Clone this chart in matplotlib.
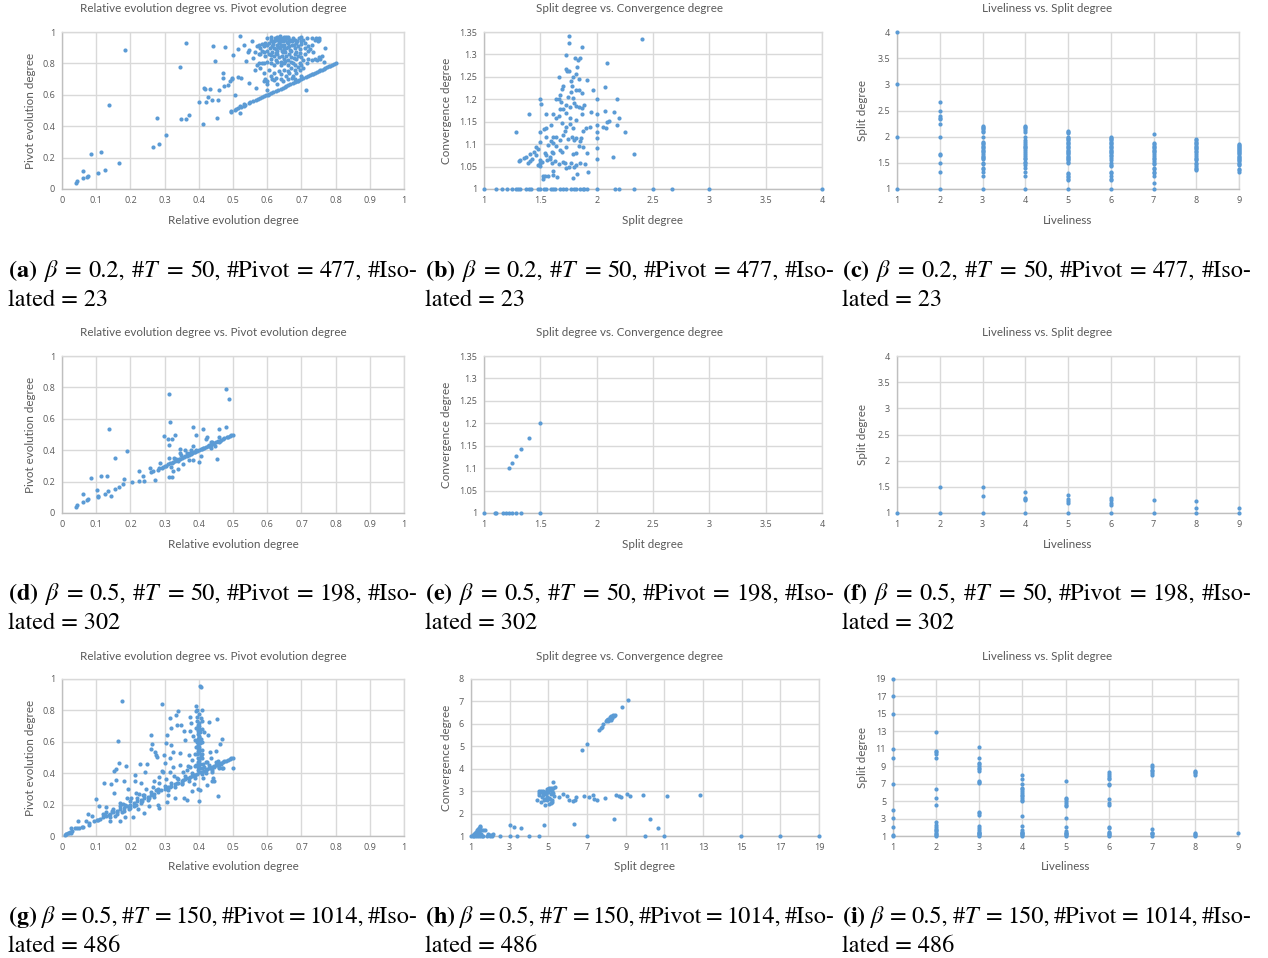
import matplotlib
matplotlib.use("Agg")
import matplotlib.pyplot as plt
from matplotlib.ticker import FuncFormatter

# ---- data (x, y) ----
# (a) beta=0.2, T=50 : relative vs pivot evolution degree
a_scatter = [(0.04, 0.038), (0.044, 0.053), (0.061, 0.117), (0.061, 0.068), (0.073, 0.078),
             (0.076, 0.085), (0.084, 0.225), (0.105, 0.104), (0.114, 0.237), (0.125, 0.121),
             (0.138, 0.534), (0.166, 0.165), (0.183, 0.883), (0.266, 0.267), (0.279, 0.453),
             (0.285, 0.284), (0.304, 0.347), (0.344, 0.778), (0.348, 0.445), (0.364, 0.932),
             (0.364, 0.443), (0.371, 0.47), (0.40, 0.555), (0.412, 0.413), (0.415, 0.646),
             (0.417, 0.638), (0.422, 0.555), (0.428, 0.589), (0.432, 0.636), (0.438, 0.568),
             (0.442, 0.909), (0.446, 0.818), (0.453, 0.451), (0.457, 0.566), (0.46, 0.631),
             (0.471, 0.739), (0.472, 0.705), (0.477, 0.903), (0.473, 0.655), (0.485, 0.663),
             (0.49, 0.686), (0.495, 0.494), (0.497, 0.71), (0.497, 0.70), (0.50, 0.856),
             (0.505, 0.597), (0.509, 0.508), (0.516, 0.89), (0.516, 0.714), (0.521, 0.972),
             (0.521, 0.485), (0.523, 0.708), (0.521, 0.528), (0.532, 0.919), (0.532, 0.54),
             (0.539, 0.818), (0.546, 0.883), (0.548, 0.676), (0.555, 0.941), (0.558, 0.835),
             (0.567, 0.646), (0.712, 0.632)]
a_cluster = [(0.60, 0.96), (0.605, 0.93), (0.61, 0.95), (0.612, 0.97), (0.615, 0.91), (0.62, 0.94),
             (0.622, 0.96), (0.625, 0.89), (0.628, 0.92), (0.63, 0.97), (0.632, 0.95), (0.635, 0.93),
             (0.638, 0.90), (0.64, 0.96), (0.642, 0.88), (0.645, 0.94), (0.648, 0.97), (0.65, 0.92),
             (0.652, 0.95), (0.655, 0.90), (0.658, 0.96), (0.66, 0.93), (0.662, 0.97), (0.665, 0.91),
             (0.668, 0.95), (0.67, 0.88), (0.672, 0.94), (0.675, 0.96), (0.678, 0.92), (0.68, 0.90),
             (0.682, 0.95), (0.685, 0.93), (0.69, 0.91), (0.692, 0.96), (0.695, 0.89), (0.70, 0.94),
             (0.62, 0.90), (0.63, 0.88), (0.64, 0.92), (0.65, 0.89), (0.66, 0.96), (0.64, 0.94),
             (0.625, 0.95), (0.655, 0.97), (0.635, 0.96), (0.645, 0.91), (0.615, 0.94), (0.60, 0.92),
             (0.595, 0.93), (0.59, 0.91), (0.585, 0.925), (0.58, 0.90), (0.575, 0.92), (0.57, 0.91),
             (0.58, 0.86), (0.585, 0.88), (0.59, 0.87), (0.595, 0.85), (0.60, 0.88), (0.605, 0.86),
             (0.61, 0.83), (0.615, 0.87), (0.62, 0.85), (0.625, 0.82), (0.63, 0.86), (0.635, 0.84),
             (0.64, 0.81), (0.645, 0.87), (0.65, 0.83), (0.655, 0.85), (0.66, 0.82), (0.665, 0.86),
             (0.67, 0.84), (0.675, 0.80), (0.68, 0.86), (0.685, 0.83), (0.69, 0.85), (0.695, 0.80),
             (0.70, 0.84), (0.705, 0.82), (0.71, 0.86), (0.715, 0.80), (0.72, 0.83), (0.61, 0.80),
             (0.62, 0.79), (0.63, 0.81), (0.64, 0.79), (0.65, 0.80), (0.66, 0.79), (0.67, 0.81),
             (0.68, 0.79), (0.69, 0.78), (0.70, 0.79), (0.60, 0.81), (0.59, 0.80), (0.575, 0.86),
             (0.565, 0.87), (0.545, 0.87), (0.575, 0.80), (0.705, 0.95), (0.71, 0.93), (0.715, 0.96),
             (0.72, 0.91), (0.725, 0.89), (0.73, 0.92), (0.735, 0.87), (0.74, 0.95), (0.742, 0.96),
             (0.745, 0.955), (0.75, 0.96), (0.752, 0.95), (0.748, 0.94), (0.74, 0.83), (0.745, 0.82),
             (0.75, 0.84), (0.73, 0.82), (0.72, 0.88), (0.77, 0.895), (0.76, 0.85), (0.765, 0.81),
             (0.755, 0.83), (0.71, 0.90), (0.70, 0.97), (0.73, 0.96), (0.58, 0.77), (0.59, 0.74),
             (0.595, 0.70), (0.60, 0.69), (0.60, 0.63), (0.605, 0.76), (0.61, 0.72), (0.615, 0.70),
             (0.62, 0.74), (0.625, 0.71), (0.63, 0.67), (0.635, 0.75), (0.64, 0.73), (0.645, 0.69),
             (0.65, 0.76), (0.655, 0.72), (0.66, 0.70), (0.665, 0.74), (0.67, 0.77), (0.675, 0.72),
             (0.68, 0.76), (0.685, 0.74), (0.69, 0.69), (0.695, 0.76), (0.70, 0.72), (0.705, 0.77),
             (0.57, 0.79), (0.585, 0.80), (0.565, 0.76), (0.59, 0.69), (0.60, 0.67), (0.62, 0.695),
             (0.64, 0.70), (0.66, 0.75), (0.672, 0.705), (0.68, 0.70),
             (0.618, 0.925), (0.633, 0.905), (0.647, 0.955), (0.653, 0.875), (0.663, 0.945),
             (0.673, 0.915), (0.688, 0.945), (0.627, 0.865), (0.643, 0.845), (0.657, 0.935),
             (0.667, 0.885), (0.683, 0.875), (0.698, 0.925), (0.608, 0.895), (0.638, 0.975),
             (0.652, 0.815), (0.677, 0.835), (0.612, 0.855), (0.697, 0.865), (0.662, 0.905)]
a_line = [(0.493, 0.493), (0.505, 0.505), (0.516, 0.516), (0.522, 0.522), (0.531, 0.531),
          (0.536, 0.536), (0.546, 0.546), (0.551, 0.551), (0.558, 0.558), (0.566, 0.566),
          (0.572, 0.572), (0.579, 0.579), (0.586, 0.586), (0.59, 0.59), (0.596, 0.596),
          (0.601, 0.601), (0.606, 0.606), (0.611, 0.611), (0.618, 0.618), (0.626, 0.626),
          (0.633, 0.633), (0.64, 0.64), (0.645, 0.645), (0.651, 0.651), (0.655, 0.655),
          (0.661, 0.661), (0.668, 0.668), (0.674, 0.674), (0.681, 0.681), (0.686, 0.686),
          (0.692, 0.692), (0.70, 0.70), (0.706, 0.706), (0.712, 0.712), (0.718, 0.718),
          (0.724, 0.724), (0.73, 0.73), (0.735, 0.735), (0.741, 0.741), (0.746, 0.746),
          (0.75, 0.75), (0.755, 0.755), (0.761, 0.761), (0.765, 0.765), (0.77, 0.77),
          (0.775, 0.775), (0.781, 0.781), (0.785, 0.785), (0.79, 0.79), (0.795, 0.795), (0.801, 0.801)]

# (b) split vs convergence degree
b_split_at_one = [1.0, 1.11, 1.163, 1.205, 1.252, 1.288, 1.305, 1.323, 1.377, 1.397, 1.415, 1.48,
                  1.495, 1.534, 1.554, 1.593, 1.614, 1.629, 1.673, 1.697, 1.732, 1.768, 1.798,
                  1.821, 1.851, 1.875, 1.886, 1.916, 2.0, 2.162, 2.198, 2.334, 2.503, 2.672, 3.0, 4.0]
b_points = [(1.75, 1.340), (1.75, 1.325), (1.866, 1.316), (2.402, 1.334), (1.726, 1.298), (1.836, 1.288),
            (1.812, 1.292), (1.851, 1.293), (1.827, 1.272), (1.729, 1.267), (1.741, 1.264), (1.753, 1.263),
            (2.094, 1.280), (1.667, 1.249), (1.792, 1.249), (1.818, 1.257), (1.839, 1.245), (1.70, 1.230),
            (1.694, 1.223), (1.774, 1.240), (1.78, 1.230), (1.771, 1.217), (1.821, 1.221), (1.845, 1.221),
            (1.866, 1.214), (1.91, 1.244), (1.964, 1.22), (2.077, 1.227), (1.501, 1.2), (1.51, 1.19),
            (1.637, 1.2), (1.667, 1.2), (1.679, 1.195), (1.673, 1.21), (1.747, 1.205), (1.792, 1.203),
            (1.801, 1.191), (1.889, 1.187), (2.0, 1.2), (2.177, 1.2), (1.732, 1.188), (1.762, 1.182),
            (1.821, 1.185), (1.845, 1.182), (1.869, 1.18), (1.673, 1.178), (1.703, 1.179), (1.614, 1.168),
            (1.554, 1.168), (1.403, 1.168), (1.667, 1.162), (1.726, 1.169), (1.765, 1.158), (1.815, 1.154),
            (1.869, 1.168), (1.952, 1.171), (2.0, 1.168), (2.074, 1.174), (2.153, 1.171), (2.2, 1.158),
            (2.094, 1.15), (2.112, 1.152), (2.183, 1.143), (2.0, 1.142), (1.94, 1.139), (1.904, 1.136),
            (2.059, 1.138), (2.08, 1.136), (1.643, 1.158), (1.593, 1.143), (1.549, 1.136), (1.762, 1.145),
            (1.792, 1.136), (1.732, 1.138), (1.72, 1.13), (1.688, 1.147), (1.288, 1.126), (1.501, 1.126),
            (1.534, 1.133), (1.875, 1.13), (2.0, 1.126), (2.248, 1.126), (1.549, 1.115), (1.611, 1.115),
            (1.637, 1.117), (1.703, 1.121), (1.777, 1.117), (1.821, 1.113), (1.86, 1.113), (1.593, 1.106),
            (1.614, 1.102), (1.673, 1.109), (1.747, 1.111), (1.798, 1.109), (1.851, 1.108), (2.0, 1.113),
            (1.57, 1.098), (1.465, 1.093), (1.501, 1.104), (1.643, 1.095), (1.732, 1.093), (1.845, 1.095),
            (1.878, 1.093), (2.0, 1.091), (1.445, 1.083), (1.48, 1.089), (1.543, 1.081), (1.602, 1.083),
            (1.673, 1.087), (1.611, 1.08), (1.691, 1.083), (1.792, 1.078), (1.821, 1.08), (1.91, 1.08),
            (2.334, 1.077), (2.141, 1.071), (1.406, 1.078), (1.371, 1.072), (1.353, 1.069), (1.317, 1.065),
            (1.308, 1.062), (1.43, 1.066), (1.465, 1.076), (1.391, 1.059), (1.406, 1.062), (1.554, 1.075),
            (1.584, 1.072), (1.59, 1.066), (1.501, 1.065), (1.495, 1.057), (1.48, 1.054), (1.501, 1.052),
            (1.513, 1.06), (1.56, 1.065), (1.602, 1.059), (1.629, 1.063), (1.667, 1.056), (1.703, 1.061),
            (1.72, 1.057), (1.732, 1.046), (1.756, 1.05), (1.768, 1.057), (1.798, 1.05), (1.821, 1.054),
            (1.854, 1.057), (1.895, 1.056), (2.0, 1.066), (1.925, 1.039), (1.525, 1.03), (1.543, 1.029),
            (1.564, 1.028), (1.611, 1.041), (1.611, 1.031), (1.652, 1.026), (1.525, 1.022), (1.786, 1.024),
            (1.827, 1.034)]

# (c) liveliness vs split degree, one list per liveliness value 1..9
liveliness = [1, 2, 3, 4, 5, 6, 7, 8, 9]
c_split = [
    [4, 3, 2, 1],
    [2.67, 2.5, 2.4, 2.35, 2.33, 2.25, 2.0, 1.67, 1.65, 1.5, 1.33, 1.0],
    [2.2, 2.18, 2.17, 2.14, 2.11, 2.09, 2.0, 1.9, 1.88, 1.86, 1.83, 1.8, 1.78, 1.75, 1.72, 1.7, 1.67,
     1.64, 1.62, 1.6, 1.57, 1.5, 1.48, 1.4, 1.38, 1.33, 1.25, 1.0],
    [2.2, 2.18, 2.16, 2.13, 2.08, 2.0, 1.94, 1.9, 1.86, 1.83, 1.8, 1.78, 1.75, 1.71, 1.67, 1.64, 1.6,
     1.57, 1.52, 1.5, 1.45, 1.4, 1.33, 1.25, 1.0],
    [2.11, 2.09, 2.07, 2.0, 1.97, 1.95, 1.93, 1.9, 1.88, 1.86, 1.83, 1.8, 1.78, 1.75, 1.73, 1.71, 1.69,
     1.67, 1.64, 1.62, 1.6, 1.57, 1.55, 1.52, 1.5, 1.3, 1.28, 1.25, 1.22, 1.2, 1.17, 1.0],
    [2.0, 1.98, 1.96, 1.93, 1.9, 1.88, 1.86, 1.83, 1.8, 1.78, 1.75, 1.73, 1.71, 1.68, 1.65, 1.63, 1.6,
     1.56, 1.5, 1.46, 1.43, 1.33, 1.3, 1.25, 1.2, 1.17, 1.0],
    [2.05, 1.88, 1.86, 1.83, 1.8, 1.78, 1.75, 1.72, 1.7, 1.67, 1.64, 1.6, 1.57, 1.54, 1.5, 1.47, 1.4,
     1.38, 1.33, 1.3, 1.25, 1.11, 1.0],
    [1.95, 1.93, 1.9, 1.88, 1.86, 1.83, 1.8, 1.78, 1.76, 1.73, 1.7, 1.67, 1.64, 1.6, 1.57, 1.55, 1.5,
     1.47, 1.43, 1.4, 1.38, 1.36],
    [1.86, 1.84, 1.82, 1.8, 1.78, 1.76, 1.74, 1.72, 1.7, 1.68, 1.66, 1.64, 1.62, 1.6, 1.58, 1.56, 1.54,
     1.5, 1.48, 1.45, 1.38, 1.36, 1.33],
]

# (d) beta=0.5, T=50
d_scatter = [(0.04, 0.038), (0.044, 0.053), (0.061, 0.119), (0.061, 0.068), (0.073, 0.081), (0.077, 0.087),
             (0.084, 0.223), (0.101, 0.145), (0.105, 0.102), (0.106, 0.111), (0.114, 0.234), (0.125, 0.121),
             (0.133, 0.238), (0.135, 0.138), (0.138, 0.534), (0.144, 0.111), (0.154, 0.353), (0.154, 0.151),
             (0.166, 0.166), (0.179, 0.187), (0.181, 0.217), (0.189, 0.396), (0.205, 0.20), (0.224, 0.27),
             (0.226, 0.206), (0.237, 0.234), (0.239, 0.206), (0.257, 0.287), (0.261, 0.26), (0.266, 0.266),
             (0.272, 0.213), (0.28, 0.272), (0.286, 0.319), (0.291, 0.287), (0.298, 0.489), (0.305, 0.30),
             (0.312, 0.757), (0.31, 0.474), (0.312, 0.353), (0.313, 0.23), (0.313, 0.432), (0.316, 0.581),
             (0.32, 0.294), (0.322, 0.47), (0.323, 0.23), (0.326, 0.266), (0.327, 0.353), (0.33, 0.496),
             (0.332, 0.347), (0.34, 0.283), (0.339, 0.33), (0.345, 0.406), (0.349, 0.368), (0.354, 0.311),
             (0.359, 0.40), (0.371, 0.34), (0.383, 0.549), (0.383, 0.426), (0.383, 0.34), (0.391, 0.496),
             (0.401, 0.326), (0.406, 0.362), (0.412, 0.538), (0.412, 0.411), (0.421, 0.47), (0.424, 0.485),
             (0.43, 0.426), (0.437, 0.411), (0.435, 0.453), (0.453, 0.343), (0.459, 0.532), (0.459, 0.481),
             (0.479, 0.549), (0.479, 0.789), (0.487, 0.726), (0.344, 0.379), (0.365, 0.379), (0.373, 0.383),
             (0.377, 0.40), (0.393, 0.404), (0.44, 0.45), (0.446, 0.426), (0.46, 0.45)]
d_line = [(0.285, 0.285), (0.294, 0.294), (0.301, 0.301), (0.309, 0.309), (0.316, 0.316), (0.321, 0.321),
          (0.326, 0.326), (0.331, 0.331), (0.336, 0.336), (0.341, 0.341), (0.346, 0.346), (0.352, 0.352),
          (0.356, 0.356), (0.361, 0.361), (0.366, 0.366), (0.371, 0.371), (0.376, 0.376), (0.381, 0.381),
          (0.386, 0.386), (0.39, 0.39), (0.396, 0.396), (0.401, 0.401), (0.405, 0.405), (0.41, 0.41),
          (0.416, 0.416), (0.421, 0.421), (0.426, 0.426), (0.431, 0.431), (0.436, 0.436), (0.44, 0.44),
          (0.445, 0.445), (0.451, 0.451), (0.456, 0.456), (0.461, 0.461), (0.466, 0.466), (0.47, 0.47),
          (0.475, 0.475), (0.481, 0.481), (0.486, 0.486), (0.49, 0.49), (0.495, 0.495), (0.50, 0.50)]

# (e)
e_split_at_one = [1.0, 1.095, 1.104, 1.169, 1.199, 1.222, 1.252, 1.288, 1.332, 1.501]
e_points = [(1.222, 1.1), (1.252, 1.111), (1.288, 1.126), (1.332, 1.143), (1.40, 1.167), (1.501, 1.2)]

# (f)
f_split = [
    [1.0], [1.5, 1.0], [1.5, 1.33, 1.0], [1.4, 1.29, 1.26, 1.24, 1.0], [1.34, 1.26, 1.22, 1.2, 1.0],
    [1.28, 1.24, 1.2, 1.16, 1.0], [1.24, 1.0], [1.22, 1.1, 1.0], [1.1, 1.0],
]

# (g) beta=0.5, T=150
g_scatter = [(0.01, 0.006), (0.013, 0.015), (0.018, 0.021), (0.022, 0.028), (0.026, 0.049), (0.027, 0.017),
             (0.038, 0.053), (0.044, 0.049), (0.047, 0.096), (0.059, 0.06), (0.069, 0.098), (0.076, 0.14),
             (0.079, 0.07), (0.089, 0.13), (0.099, 0.236), (0.103, 0.102), (0.108, 0.191), (0.11, 0.111),
             (0.123, 0.336), (0.128, 0.183), (0.136, 0.134), (0.139, 0.096), (0.144, 0.332), (0.151, 0.411),
             (0.153, 0.272), (0.157, 0.428), (0.159, 0.357), (0.161, 0.155), (0.164, 0.606), (0.166, 0.468),
             (0.17, 0.098), (0.17, 0.209), (0.175, 0.857), (0.178, 0.204), (0.18, 0.351), (0.184, 0.121),
             (0.186, 0.449), (0.19, 0.245), (0.193, 0.30), (0.196, 0.17), (0.203, 0.24), (0.208, 0.119),
             (0.212, 0.389), (0.214, 0.351), (0.217, 0.272), (0.222, 0.17), (0.227, 0.46), (0.232, 0.34),
             (0.237, 0.262), (0.241, 0.149), (0.244, 0.406), (0.249, 0.457), (0.254, 0.194), (0.259, 0.645),
             (0.261, 0.555), (0.264, 0.585), (0.268, 0.353), (0.271, 0.534), (0.276, 0.517), (0.278, 0.506),
             (0.282, 0.198), (0.284, 0.177), (0.285, 0.377), (0.291, 0.84), (0.293, 0.411), (0.298, 0.517),
             (0.30, 0.464), (0.305, 0.591), (0.307, 0.645), (0.308, 0.215), (0.31, 0.262), (0.315, 0.496),
             (0.317, 0.751), (0.319, 0.691), (0.32, 0.581), (0.325, 0.538), (0.327, 0.381), (0.329, 0.245),
             (0.334, 0.772), (0.337, 0.709), (0.34, 0.794), (0.344, 0.528), (0.349, 0.709), (0.352, 0.336),
             (0.356, 0.67), (0.358, 0.24), (0.36, 0.611), (0.363, 0.372), (0.365, 0.23), (0.368, 0.443),
             (0.371, 0.517), (0.373, 0.666), (0.375, 0.755), (0.377, 0.717), (0.379, 0.485), (0.381, 0.289),
             (0.383, 0.634), (0.385, 0.33), (0.388, 0.443), (0.391, 0.826), (0.393, 0.794), (0.397, 0.298),
             (0.401, 0.223), (0.404, 0.953), (0.406, 0.949), (0.408, 0.804), (0.404, 0.294), (0.409, 0.394),
             (0.412, 0.368), (0.416, 0.662), (0.42, 0.474), (0.424, 0.326), (0.428, 0.645), (0.431, 0.723),
             (0.432, 0.538), (0.435, 0.496), (0.438, 0.406), (0.442, 0.372), (0.444, 0.351), (0.449, 0.543),
             (0.453, 0.745), (0.455, 0.257), (0.459, 0.436), (0.461, 0.587), (0.468, 0.621), (0.469, 0.436),
             (0.50, 0.436), (0.145, 0.16), (0.155, 0.13), (0.175, 0.15), (0.185, 0.2), (0.2, 0.18),
             (0.215, 0.2), (0.225, 0.27), (0.235, 0.22), (0.245, 0.3), (0.255, 0.24), (0.265, 0.31),
             (0.275, 0.29), (0.285, 0.34), (0.295, 0.41), (0.305, 0.36), (0.315, 0.41), (0.325, 0.44),
             (0.335, 0.37), (0.345, 0.45), (0.355, 0.41), (0.365, 0.42), (0.375, 0.44), (0.385, 0.39),
             (0.415, 0.44), (0.425, 0.47), (0.445, 0.44), (0.455, 0.48), (0.465, 0.46)]
g_column = [(0.395, 0.73), (0.40, 0.72), (0.398, 0.71), (0.402, 0.70), (0.396, 0.69), (0.401, 0.68),
            (0.399, 0.67), (0.403, 0.66), (0.397, 0.65), (0.40, 0.64), (0.402, 0.63), (0.398, 0.62),
            (0.401, 0.61), (0.396, 0.60), (0.404, 0.59), (0.399, 0.58), (0.40, 0.57), (0.397, 0.56),
            (0.403, 0.55), (0.398, 0.54), (0.401, 0.53), (0.396, 0.52), (0.405, 0.51), (0.399, 0.50),
            (0.402, 0.49), (0.40, 0.48), (0.398, 0.47), (0.403, 0.46), (0.40, 0.45), (0.397, 0.44),
            (0.402, 0.43), (0.399, 0.42), (0.401, 0.41), (0.41, 0.55), (0.41, 0.52), (0.392, 0.57),
            (0.39, 0.52), (0.41, 0.60), (0.412, 0.46), (0.393, 0.45), (0.408, 0.68), (0.392, 0.69),
            (0.407, 0.62), (0.39, 0.61), (0.41, 0.50), (0.395, 0.76), (0.40, 0.78), (0.405, 0.75),
            (0.395, 0.80), (0.41, 0.73)]
g_line = [(0.012, 0.012), (0.02, 0.02), (0.03, 0.03), (0.05, 0.05), (0.06, 0.06), (0.08, 0.08),
          (0.095, 0.095), (0.105, 0.105), (0.12, 0.12), (0.13, 0.13), (0.14, 0.14), (0.15, 0.15),
          (0.16, 0.16), (0.17, 0.17), (0.18, 0.18), (0.19, 0.19), (0.20, 0.20), (0.21, 0.21),
          (0.22, 0.22), (0.23, 0.23), (0.24, 0.24), (0.25, 0.25), (0.26, 0.26), (0.27, 0.27),
          (0.28, 0.28), (0.29, 0.29), (0.30, 0.30), (0.31, 0.31), (0.315, 0.315), (0.32, 0.32),
          (0.33, 0.33), (0.335, 0.335), (0.34, 0.34), (0.35, 0.35), (0.355, 0.355), (0.36, 0.36),
          (0.37, 0.37), (0.375, 0.375), (0.38, 0.38), (0.39, 0.39), (0.395, 0.395), (0.405, 0.405),
          (0.41, 0.41), (0.415, 0.415), (0.42, 0.42), (0.425, 0.425), (0.43, 0.43), (0.435, 0.435),
          (0.44, 0.44), (0.445, 0.445), (0.45, 0.45), (0.455, 0.455), (0.46, 0.46), (0.465, 0.465),
          (0.47, 0.47), (0.475, 0.475), (0.48, 0.48), (0.485, 0.485), (0.49, 0.49), (0.495, 0.495),
          (0.50, 0.50)]
g_band = [(0.13, 0.15), (0.14, 0.12), (0.15, 0.17), (0.16, 0.14), (0.17, 0.19), (0.18, 0.16), (0.20, 0.22),
          (0.21, 0.19), (0.22, 0.24), (0.23, 0.21), (0.24, 0.26), (0.25, 0.23), (0.26, 0.28), (0.27, 0.25),
          (0.28, 0.30), (0.30, 0.32), (0.31, 0.29), (0.32, 0.34), (0.33, 0.31), (0.34, 0.36), (0.35, 0.33),
          (0.36, 0.38), (0.37, 0.35), (0.38, 0.40), (0.39, 0.37), (0.41, 0.43), (0.42, 0.40), (0.43, 0.45),
          (0.44, 0.42), (0.45, 0.47), (0.46, 0.44), (0.47, 0.43), (0.44, 0.35), (0.12, 0.14), (0.125, 0.135)]

# (h)
h_split_at_one = [1.0, 1.086, 1.172, 1.259, 1.379, 1.466, 1.552, 1.638, 1.81, 1.983, 2.069, 2.5, 3.017,
                  3.362, 4.017, 4.5, 7.017, 10.017, 11.0, 14.97, 16.99, 19.0]
h_low = [(1.1, 1.05), (1.15, 1.1), (1.2, 1.15), (1.25, 1.2), (1.3, 1.25), (1.35, 1.3), (1.4, 1.35),
         (1.45, 1.4), (1.47, 1.44), (1.3, 1.1), (1.4, 1.2), (1.5, 1.25), (1.6, 1.25), (1.2, 1.05),
         (1.35, 1.15), (1.45, 1.25), (1.5, 1.1), (1.72, 1.27), (1.9, 1.09), (1.98, 1.04), (2.07, 1.04),
         (2.16, 1.07), (1.25, 1.1), (1.3, 1.18), (1.38, 1.28), (1.42, 1.32), (1.15, 1.03), (1.4, 1.05),
         (3.02, 1.47), (3.24, 1.41), (3.6, 1.37), (4.78, 1.47), (6.34, 1.53), (8.41, 1.74), (10.26, 1.78),
         (10.66, 1.37)]
h_mid = [(4.4, 2.6), (4.5, 3.01), (4.57, 2.94), (4.66, 2.75), (4.74, 3.01), (4.79, 2.6), (4.83, 2.38),
         (4.88, 2.89), (4.91, 3.01), (4.95, 2.75), (5.0, 3.09), (5.02, 2.41), (5.05, 3.12), (5.09, 2.67),
         (5.12, 3.15), (5.16, 2.45), (5.17, 2.6), (5.22, 3.16), (5.26, 3.41), (5.26, 2.92), (5.29, 2.79),
         (5.33, 3.18), (4.5, 2.82), (4.6, 2.52), (4.67, 2.97), (4.74, 2.82), (4.83, 2.64), (4.91, 2.6),
         (4.98, 2.97), (5.05, 2.7), (5.12, 2.89), (5.19, 2.52), (4.53, 2.91), (4.64, 3.01), (4.78, 2.91),
         (4.84, 2.97), (4.93, 3.09), (5.09, 3.06), (5.17, 3.01), (5.55, 2.75), (5.78, 2.86), (5.95, 2.79),
         (6.07, 2.6), (6.26, 2.55), (6.38, 2.6), (6.43, 2.75), (6.86, 2.78), (7.1, 2.75), (7.29, 2.82),
         (7.36, 2.64), (7.5, 2.6), (7.93, 2.7), (8.48, 2.82), (8.66, 2.78), (8.78, 2.75), (9.09, 2.89),
         (9.22, 2.78), (9.88, 2.85), (11.16, 2.78), (12.84, 2.82)]
h_high = [(6.76, 4.85), (7.02, 5.08), (7.64, 5.71), (7.72, 5.81), (7.79, 5.88), (7.84, 6.0), (7.98, 6.11),
          (8.05, 6.17), (8.1, 6.22), (8.19, 6.3), (8.26, 6.34), (8.33, 6.4), (8.45, 6.4), (8.41, 6.37),
          (8.16, 6.19), (8.07, 6.11), (8.02, 6.19), (8.28, 6.25), (8.22, 6.15), (8.79, 6.77), (9.1, 7.05)]

# (i)
i_split = [
    [19, 17, 15, 11, 10, 7, 4, 3.1, 2.07, 1.08, 1.0],
    [12.87, 10.7, 10.58, 10.35, 10.0, 6.37, 5.3, 4.6, 2.55, 2.25, 2.0, 1.84, 1.65, 1.53, 1.38, 1.23, 1.08, 1.0],
    [11.19, 9.97, 9.4, 9.24, 9.02, 8.79, 8.63, 8.44, 7.3, 7.23, 7.1, 3.75, 3.63, 3.44, 2.15, 1.9, 1.7, 1.5,
     1.4, 1.3, 1.2, 1.1, 1.0],
    [7.95, 7.49, 6.92, 6.53, 6.34, 6.15, 5.96, 5.73, 5.58, 5.35, 5.16, 4.97, 3.33, 2.11, 1.65, 1.5, 1.4,
     1.3, 1.2, 1.1, 1.0],
    [7.34, 5.35, 5.2, 5.0, 4.81, 4.59, 4.4, 3.1, 2.03, 1.6, 1.4, 1.3, 1.2, 1.1, 1.0],
    [8.3, 8.1, 7.9, 7.7, 7.5, 7.0, 6.8, 5.2, 4.8, 4.6, 2.0, 1.9, 1.5, 1.3, 1.2, 1.1, 1.0],
    [9.1, 8.9, 8.6, 8.4, 8.2, 8.0, 1.8, 1.4, 1.3, 1.2, 1.0],
    [8.5, 8.3, 8.2, 8.0, 1.3, 1.2, 1.1, 1.0],
    [1.3],
]

captions = [
    ("a", "0.2", "50", "477", "23"), ("b", "0.2", "50", "477", "23"), ("c", "0.2", "50", "477", "23"),
    ("d", "0.5", "50", "198", "302"), ("e", "0.5", "50", "198", "302"), ("f", "0.5", "50", "198", "302"),
    ("g", "0.5", "150", "1014", "486"), ("h", "0.5", "150", "1014", "486"), ("i", "0.5", "150", "1014", "486"),
]

# ---- styling ----
W, H = 1268, 958
BLUE = "#5B9BD5"
TXT = "#595959"
GRID = "#D9D9D9"
FONT = "Lato"
TICKFONT = "Open Sans"
CAP_SIZE = 17.5
CAP_WIDTH = 410  # justified caption line width in px

plt.rcParams["mathtext.fontset"] = "stix"
fig = plt.figure(figsize=(W / 100, H / 100), dpi=100)


def fx(px):
    return px / W


def fy(py):
    return 1 - py / H


def make_axes(l, t, r, b):
    return fig.add_axes([fx(l), fy(b), fx(r - l), (b - t) / H])


def style(ax, xlim, xticks, ylim, yticks):
    ax.set_xlim(xlim)
    ax.set_ylim(ylim)
    ax.set_xticks(xticks)
    ax.set_yticks(yticks)
    fmt = FuncFormatter(lambda v, p: f"{v:g}")
    ax.xaxis.set_major_formatter(fmt)
    ax.yaxis.set_major_formatter(fmt)
    ax.grid(True, color=GRID, linewidth=1.0)
    ax.set_axisbelow(True)
    for s in ax.spines.values():
        s.set_color(GRID)
        s.set_linewidth(1.0)
    ax.spines["bottom"].set_color("#BFBFBF")
    ax.spines["left"].set_color("#BFBFBF")
    ax.tick_params(length=0, labelsize=6.5, labelcolor=TXT, pad=5)
    for lab in ax.get_xticklabels() + ax.get_yticklabels():
        lab.set_fontfamily(TICKFONT)


def dots(ax, pts):
    xs = [p[0] for p in pts]
    ys = [p[1] for p in pts]
    ax.scatter(xs, ys, s=9, color=BLUE, linewidths=0, clip_on=False, zorder=3)


def labels(ax_box, title, title_cx, xlabel, ylabel, ylabel_x):
    l, t, r, b = ax_box
    fig.text(fx(title_cx), fy(t - 23), title, ha="center", va="center",
             fontsize=8.4, color=TXT, family=FONT)
    fig.text(fx((l + r) / 2), fy(b + 31), xlabel, ha="center", va="center",
             fontsize=8.4, color=TXT, family=FONT)
    fig.text(fx(ylabel_x), fy((t + b) / 2), ylabel, ha="center", va="center",
             rotation=90, fontsize=8.4, color=TXT, family=FONT)


rows = [(32, 189), (356, 513), (679, 836)]
T1 = "Relative evolution degree vs. Pivot evolution degree"
T2 = "Split degree vs. Convergence degree"
T3 = "Liveliness vs. Split degree"
ticks01 = [i / 10 for i in range(11)]
conv_ticks = [1, 1.05, 1.1, 1.15, 1.2, 1.25, 1.3, 1.35]
split_ticks = [1, 1.5, 2, 2.5, 3, 3.5, 4]

# column 1
for (t, b), groups in zip(rows, [[a_scatter, a_cluster, a_line], [d_scatter, d_line],
                                 [g_scatter, g_column, g_line, g_band]]):
    box = (62, t, 404, b)
    ax = make_axes(*box)
    style(ax, (0, 1), ticks01, (0, 1), [0, 0.2, 0.4, 0.6, 0.8, 1])
    for grp in groups:
        dots(ax, grp)
    labels(box, T1, 213, "Relative evolution degree", "Pivot evolution degree", 30)

# column 2
for (t, b), ones, pts in zip(rows[:2], [b_split_at_one, e_split_at_one], [b_points, e_points]):
    box = (484, t, 822, b)
    ax = make_axes(*box)
    style(ax, (1, 4), split_ticks, (1, 1.35), conv_ticks)
    dots(ax, [(v, 1.0) for v in ones] + pts)
    labels(box, T2, 630, "Split degree", "Convergence degree", 447)

box = (471, rows[2][0], 819, rows[2][1])
ax = make_axes(*box)
style(ax, (1, 19), list(range(1, 20, 2)), (1, 8), list(range(1, 9)))
dots(ax, [(v, 1.0) for v in h_split_at_one] + h_low + h_mid + h_high)
labels(box, T2, 630, "Split degree", "Convergence degree", 446)

# column 3
for (t, b), data in zip(rows[:2], [c_split, f_split]):
    box = (897, t, 1239, b)
    ax = make_axes(*box)
    style(ax, (1, 9), liveliness, (1, 4), split_ticks)
    dots(ax, [(lv, v) for lv, col in zip(liveliness, data) for v in col])
    labels(box, T3, 1047, "Liveliness", "Split degree", 863)

box = (893, rows[2][0], 1238, rows[2][1])
ax = make_axes(*box)
style(ax, (1, 9), liveliness, (1, 19), list(range(1, 20, 2)))
dots(ax, [(lv, v) for lv, col in zip(liveliness, i_split) for v in col])
labels(box, T3, 1047, "Liveliness", "Split degree", 863)

# ---- captions (first line justified to a fixed width, like the LaTeX original) ----
renderer = fig.canvas.get_renderer()
cap_x = [8, 425, 842]
cap_y = [(277, 306), (600, 629), (923, 952)]
for k, (letter, beta, nt, npiv, niso) in enumerate(captions):
    x0 = cap_x[k % 3]
    y1, y2 = cap_y[k // 3]
    words = [r"$\mathbf{(" + letter + r")}$", r"$\beta$", "=", beta + ",", r"#$T$", "=", nt + ",",
             "#Pivot", "=", npiv + ",", "#Iso-"]
    objs = [fig.text(0, fy(y1), w, ha="left", va="baseline", fontsize=CAP_SIZE,
                     family="STIXGeneral", color="black") for w in words]
    widths = [o.get_window_extent(renderer).width for o in objs]
    gap = (CAP_WIDTH - sum(widths)) / (len(words) - 1)
    xpos = x0
    for o, wd in zip(objs, widths):
        o.set_x(fx(xpos))
        xpos += wd + gap
    fig.text(fx(x0), fy(y2), "lated = " + niso, ha="left", va="baseline", fontsize=CAP_SIZE,
             family="STIXGeneral", color="black")

fig.savefig("out.png", dpi=100, facecolor="white")
